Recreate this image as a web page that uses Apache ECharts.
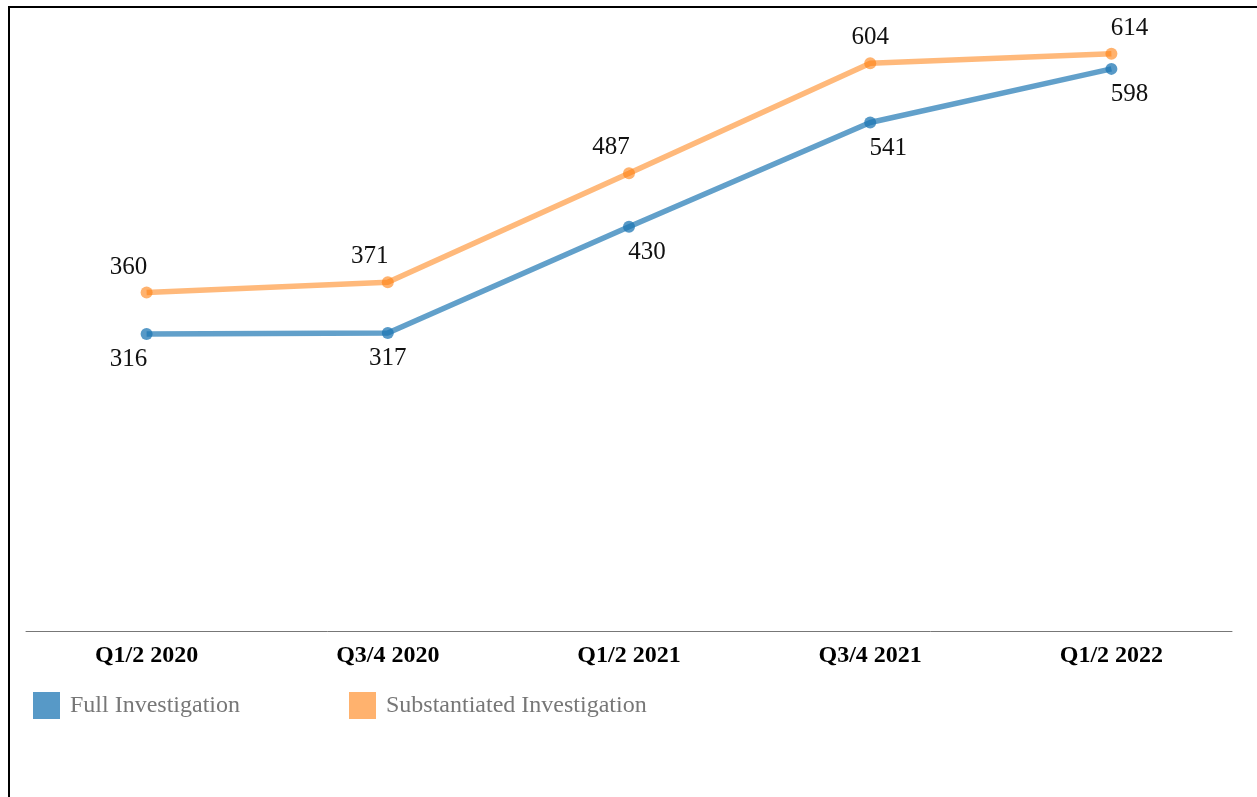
<!DOCTYPE html>
<html>
<head>
<meta charset="utf-8">
<script src="https://cdn.jsdelivr.net/npm/echarts@6/dist/echarts.min.js"></script>
<style>
  html, body { margin: 0; padding: 0; background: #fff; }
  #chart { width: 1257px; height: 797px; }
</style>
</head>
<body>
<div id="chart"></div>
<script>
// data
var periods = ['Q1/2 2020', 'Q3/4 2020', 'Q1/2 2021', 'Q3/4 2021', 'Q1/2 2022']
var fullInvestigation = [316, 317, 430, 541, 598]
var substantiatedInvestigation = [360, 371, 487, 604, 614]

// label nudges (px) so the numbers sit like the original
var fullOffsets = [[-18, 0], [0, 0], [18, 0], [18, 0], [18, 0]]
var subOffsets = [[-18, 0], [-18, 0], [-18, 0], [0, 0], [18, 0]]

var serif = '"Liberation Serif", "DejaVu Serif", serif'

function makeData (values, offsets) {
  return values.map(function (v, i) {
    return { value: v, label: { offset: offsets[i] } }
  })
}

var chart = echarts.init(document.getElementById('chart'))
var option = {
  animation: false,
  textStyle: { fontFamily: serif },
  graphic: [{
    type: 'polyline',
    shape: { points: [[9, 797], [9, 7], [1257, 7]] },
    style: { stroke: '#000', lineWidth: 2, fill: null }
  }],
  grid: { left: 26, right: 25, top: 20, bottom: 166 },
  legend: [{
    left: 33, top: 692, padding: 0, icon: 'rect', itemWidth: 27, itemHeight: 27,
    data: ['Full Investigation'],
    textStyle: { fontFamily: serif, fontSize: 24, color: '#777', padding: [3, 0, 0, 5] }
  }, {
    left: 349, top: 692, padding: 0, icon: 'rect', itemWidth: 27, itemHeight: 27,
    data: ['Substantiated Investigation'],
    textStyle: { fontFamily: serif, fontSize: 24, color: '#777', padding: [3, 0, 0, 5] }
  }],
  xAxis: {
    type: 'category',
    data: periods,
    boundaryGap: true,
    axisLine: { lineStyle: { color: '#777', width: 1 } },
    axisTick: { show: false },
    axisLabel: { fontFamily: serif, fontSize: 24, fontWeight: 'bold', color: '#000', margin: 13 }
  },
  yAxis: {
    type: 'value', min: 0, max: 650,
    show: false,
    splitLine: { show: false }
  },
  series: [{
    name: 'Full Investigation',
    type: 'line',
    data: makeData(fullInvestigation, fullOffsets),
    symbol: 'circle', symbolSize: 12,
    itemStyle: { color: '#1f77b4', opacity: 0.75 },
    lineStyle: { color: '#1f77b4', width: 5.5, opacity: 0.7 },
    label: { show: true, position: 'bottom', distance: 7, opacity: 1, fontFamily: serif, fontSize: 25, color: '#111' }
  }, {
    name: 'Substantiated Investigation',
    type: 'line',
    data: makeData(substantiatedInvestigation, subOffsets),
    symbol: 'circle', symbolSize: 12,
    itemStyle: { color: '#ff7f0e', opacity: 0.6 },
    lineStyle: { color: '#ff7f0e', width: 5.5, opacity: 0.55 },
    label: { show: true, position: 'top', distance: 7, opacity: 1, fontFamily: serif, fontSize: 25, color: '#111' }
  }]
}
chart.setOption(option)
</script>
</body>
</html>
